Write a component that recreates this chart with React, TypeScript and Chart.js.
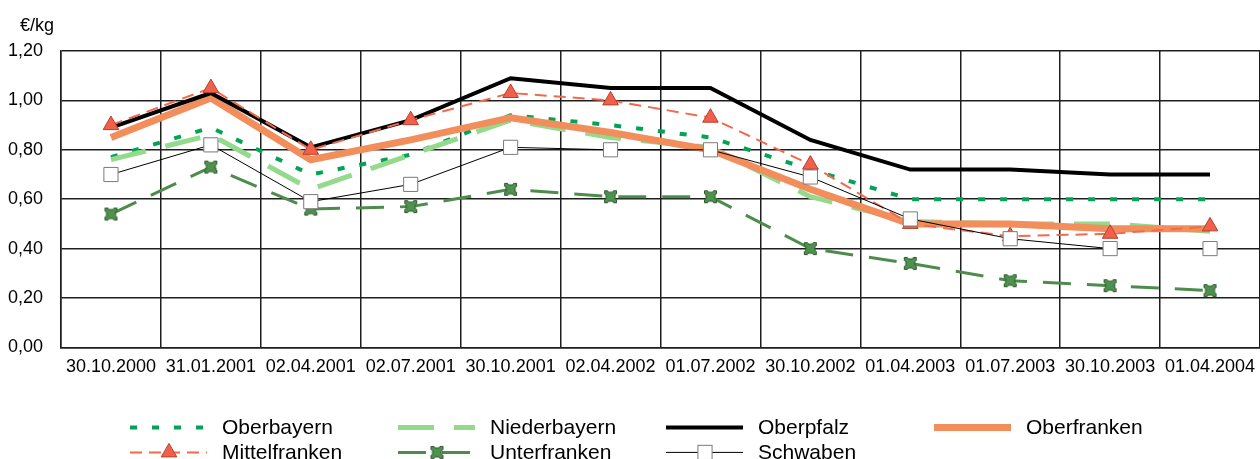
import { useEffect, useRef } from "react";
import { Chart, registerables } from "chart.js";
Chart.register(...registerables);

const categories = ["30.10.2000", "31.01.2001", "02.04.2001", "02.07.2001", "30.10.2001", "02.04.2002", "01.07.2002", "30.10.2002", "01.04.2003", "01.07.2003", "30.10.2003", "01.04.2004"];
const oberbayern = [0.77, 0.89, 0.70, 0.78, 0.94, 0.90, 0.85, 0.72, 0.60, 0.60, 0.60, 0.60];
const niederbayern = [0.76, 0.86, 0.64, 0.78, 0.92, 0.85, 0.81, 0.61, 0.51, 0.50, 0.50, 0.47];
const oberpfalz = [0.89, 1.03, 0.81, 0.92, 1.09, 1.05, 1.05, 0.84, 0.72, 0.72, 0.70, 0.70];
const oberfranken = [0.85, 1.01, 0.76, 0.84, 0.93, 0.87, 0.80, 0.64, 0.50, 0.50, 0.48, 0.48];
const mittelfranken = [0.90, 1.05, 0.80, 0.92, 1.03, 1.00, 0.93, 0.74, 0.50, 0.45, 0.46, 0.49];
const unterfranken = [0.54, 0.73, 0.56, 0.57, 0.64, 0.61, 0.61, 0.40, 0.34, 0.27, 0.25, 0.23];
const schwaben = [0.70, 0.82, 0.59, 0.66, 0.81, 0.80, 0.80, 0.69, 0.52, 0.44, 0.40, 0.40];
const yTicks = [0, 0.2, 0.4, 0.6, 0.8, 1.0, 1.2];
const unitLabel = "€/kg";
const legendRows = [
  ["Oberbayern", "Niederbayern", "Oberpfalz", "Oberfranken"],
  ["Mittelfranken", "Unterfranken", "Schwaben"],
];

const FONT = "'Liberation Sans', Arial, sans-serif";

function makeNotchedSquare(): HTMLCanvasElement {
  const c = document.createElement("canvas");
  c.width = 15;
  c.height = 15;
  const g = c.getContext("2d")!;
  g.fillStyle = "#4f914f";
  g.strokeStyle = "#2c5a2c";
  g.lineWidth = 1;
  g.beginPath();
  g.moveTo(1.5, 1.5);
  g.lineTo(4.5, 1.5);
  g.lineTo(5.5, 3);
  g.lineTo(9.5, 3);
  g.lineTo(10.5, 1.5);
  g.lineTo(13.5, 1.5);
  g.lineTo(13.5, 4.5);
  g.lineTo(12, 5.5);
  g.lineTo(12, 9.5);
  g.lineTo(13.5, 10.5);
  g.lineTo(13.5, 13.5);
  g.lineTo(10.5, 13.5);
  g.lineTo(9.5, 12);
  g.lineTo(5.5, 12);
  g.lineTo(4.5, 13.5);
  g.lineTo(1.5, 13.5);
  g.lineTo(1.5, 10.5);
  g.lineTo(3, 9.5);
  g.lineTo(3, 5.5);
  g.lineTo(1.5, 4.5);
  g.closePath();
  g.fill();
  g.stroke();
  return c;
}

function drawMarker(ctx: CanvasRenderingContext2D, ds: any, x: number, y: number) {
  const style = ds.pointStyle;
  const r = ds.pointRadius || 0;
  if (!r && !(style instanceof HTMLCanvasElement)) return;
  ctx.save();
  ctx.setLineDash([]);
  if (style instanceof HTMLCanvasElement) {
    ctx.drawImage(style, x - style.width / 2, y - style.height / 2);
  } else if (style === "triangle") {
    ctx.beginPath();
    let rad = 0;
    ctx.moveTo(x + Math.sin(rad) * r, y - Math.cos(rad) * r);
    rad += (2 * Math.PI) / 3;
    ctx.lineTo(x + Math.sin(rad) * r, y - Math.cos(rad) * r);
    rad += (2 * Math.PI) / 3;
    ctx.lineTo(x + Math.sin(rad) * r, y - Math.cos(rad) * r);
    ctx.closePath();
    ctx.fillStyle = ds.pointBackgroundColor;
    ctx.strokeStyle = ds.pointBorderColor;
    ctx.lineWidth = ds.pointBorderWidth;
    ctx.fill();
    ctx.stroke();
  } else if (style === "rect") {
    const s = Math.SQRT1_2 * r;
    ctx.fillStyle = ds.pointBackgroundColor;
    ctx.strokeStyle = ds.pointBorderColor;
    ctx.lineWidth = ds.pointBorderWidth;
    ctx.fillRect(x - s, y - s, 2 * s, 2 * s);
    ctx.strokeRect(x - s, y - s, 2 * s, 2 * s);
  }
  ctx.restore();
}

const extrasPlugin = {
  id: "extras",
  afterDraw(chart: any) {
    const ctx: CanvasRenderingContext2D = chart.ctx;
    const area = chart.chartArea;
    ctx.save();
    ctx.fillStyle = "#000";
    ctx.font = `18px ${FONT}`;
    ctx.textBaseline = "middle";
    ctx.textAlign = "left";
    ctx.fillText(unitLabel, area.left - 41, area.top - 25);

    const startX = chart.width / 2 - 500;
    const colW = 268;
    const rowY0 = area.bottom + 80;
    const rowH = 25;
    legendRows.forEach((row, ri) => {
      row.forEach((label, ci) => {
        const ds = chart.data.datasets.find((d: any) => d.label === label);
        if (!ds) return;
        const x0 = startX + ci * colW;
        const y = rowY0 + ri * rowH;
        ctx.save();
        ctx.strokeStyle = ds.borderColor;
        ctx.lineWidth = ds.borderWidth;
        ctx.lineCap = "butt";
        ctx.setLineDash(ds.borderDash || []);
        ctx.beginPath();
        ctx.moveTo(x0, y);
        ctx.lineTo(x0 + 77, y);
        ctx.stroke();
        ctx.restore();
        drawMarker(ctx, ds, x0 + 39, y);
        ctx.fillStyle = "#000";
        ctx.font = `21px ${FONT}`;
        ctx.textBaseline = "middle";
        ctx.textAlign = "left";
        ctx.fillText(label, x0 + 92, y + 1);
      });
    });
    ctx.restore();
  },
};

export default function App() {
  const ref = useRef<HTMLCanvasElement | null>(null);
  useEffect(() => {
    if (!ref.current) return;
    const notched = makeNotchedSquare();
    const chart = new Chart(ref.current, {
      type: "line",
      data: {
        labels: categories,
        datasets: [
          {
            label: "Oberbayern",
            data: oberbayern,
            borderColor: "#00a454",
            borderWidth: 4,
            borderDash: [7, 15],
            pointRadius: 0,
            order: 7,
          },
          {
            label: "Niederbayern",
            data: niederbayern,
            borderColor: "#93da8c",
            borderWidth: 5,
            borderDash: [36, 20],
            pointRadius: 0,
            order: 6,
          },
          {
            label: "Oberpfalz",
            data: oberpfalz,
            borderColor: "#000000",
            borderWidth: 4,
            pointRadius: 0,
            order: 4,
          },
          {
            label: "Oberfranken",
            data: oberfranken,
            borderColor: "#f28e5c",
            borderWidth: 7,
            pointRadius: 0,
            order: 5,
          },
          {
            label: "Mittelfranken",
            data: mittelfranken,
            borderColor: "#f2694e",
            borderWidth: 2,
            borderDash: [12, 7],
            pointStyle: "triangle",
            pointRadius: 9,
            pointBackgroundColor: "#f0604a",
            pointBorderColor: "#b8402e",
            pointBorderWidth: 1,
            order: 3,
          },
          {
            label: "Unterfranken",
            data: unterfranken,
            borderColor: "#4e8c4e",
            borderWidth: 3,
            borderDash: [28, 16],
            pointStyle: notched,
            pointRadius: 7,
            order: 2,
          },
          {
            label: "Schwaben",
            data: schwaben,
            borderColor: "#000000",
            borderWidth: 1,
            pointStyle: "rect",
            pointRadius: 10,
            pointBackgroundColor: "#ffffff",
            pointBorderColor: "#7a7a7a",
            pointBorderWidth: 1,
            order: 1,
          },
        ] as any,
      },
      options: {
        animation: false,
        responsive: true,
        maintainAspectRatio: false,
        layout: { autoPadding: false, padding: { left: 8, top: 51, right: 0, bottom: 72 } },
        plugins: { legend: { display: false }, tooltip: { enabled: false }, title: { display: false } },
        elements: { line: { tension: 0, fill: false } },
        scales: {
          x: {
            type: "category",
            offset: true,
            afterFit: (axis: any) => {
              axis.paddingLeft = 0;
              axis.paddingRight = 0;
            },
            grid: { offset: true, color: "#1e1e1e", lineWidth: 1.5, drawTicks: false },
            border: { color: "#1e1e1e", width: 1.5 },
            ticks: {
              color: "#000",
              font: { family: FONT, size: 18 },
              padding: 9,
              maxRotation: 0,
              autoSkip: false,
            },
          },
          y: {
            min: 0,
            max: 1.2,
            afterBuildTicks: (axis: any) => {
              axis.ticks = yTicks.map((v) => ({ value: v }));
            },
            afterFit: (axis: any) => {
              axis.width = 53;
              axis.paddingTop = 0;
              axis.paddingBottom = 0;
            },
            grid: { color: "#1e1e1e", lineWidth: 1.5, drawTicks: false },
            border: { color: "#1e1e1e", width: 1.5 },
            ticks: {
              color: "#000",
              font: { family: FONT, size: 18 },
              padding: 18,
              callback: (v: any) => Number(v).toFixed(2).replace(".", ","),
            },
          },
        },
      },
      plugins: [extrasPlugin],
    });
    return () => chart.destroy();
  }, []);
  return (
    <div style={{ position: "absolute", left: 0, top: 0, width: 1260, height: 459 }}>
      <canvas ref={ref} />
    </div>
  );
}
